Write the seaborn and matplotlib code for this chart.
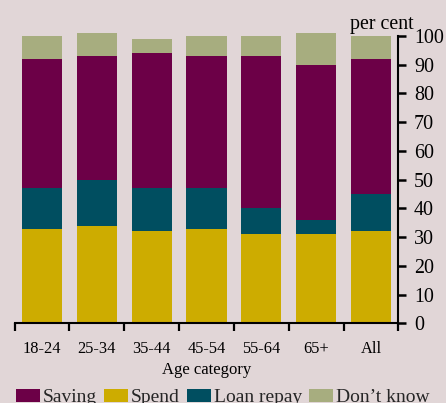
import numpy as np
import pandas as pd
import matplotlib
matplotlib.use("Agg")
import matplotlib.pyplot as plt
from matplotlib.patches import Patch
import seaborn as sns

# Share of respondents by intended use of money, per age group (per cent)
ages = ["18-24", "25-34", "35-44", "45-54", "55-64", "65+", "All"]
spend = [33, 34, 32, 33, 31, 31, 32]
loan_repay = [14, 16, 15, 14, 9, 5, 13]
saving = [45, 43, 47, 46, 53, 54, 47]
dont_know = [8, 8, 5, 7, 7, 11, 8]
y_ticks = list(range(0, 101, 10))

BG = "#e1d6d7"
C_SAVING = "#6c0047"
C_SPEND = "#cdac00"
C_LOAN = "#004e60"
C_DK = "#a7ad7f"

sns.set_theme(style="white")
plt.rcParams["font.family"] = ["Liberation Serif", "DejaVu Serif"]

df = pd.DataFrame({
    "age": ages,
    "spend": spend,
    "loan": loan_repay,
    "saving": saving,
    "dk": dont_know,
})
df["c_spend"] = df["spend"]
df["c_loan"] = df["c_spend"] + df["loan"]
df["c_saving"] = df["c_loan"] + df["saving"]
df["c_dk"] = df["c_saving"] + df["dk"]

fig = plt.figure(figsize=(4.46, 4.03), dpi=100, facecolor=BG)
ax = fig.add_axes([0.0327, 0.1973, 0.8933 - 0.0327, 0.925 - 0.1973])
ax.set_facecolor(BG)

# stacked bars drawn as overlapping cumulative totals, tallest first
for col, color in [("c_dk", C_DK), ("c_saving", C_SAVING),
                   ("c_loan", C_LOAN), ("c_spend", C_SPEND)]:
    sns.barplot(data=df, x="age", y=col, order=ages, color=color,
                saturation=1, width=0.73, linewidth=0, errorbar=None, ax=ax)

ax.set_xlim(-0.5, len(ages) - 0.5)
ax.set_ylim(0, 102)

for side in ("left", "top"):
    ax.spines[side].set_visible(False)
for side in ("right", "bottom"):
    ax.spines[side].set_visible(True)
    ax.spines[side].set_color("black")
    ax.spines[side].set_linewidth(1.5)
ax.spines["right"].set_bounds(0, 100)

ax.yaxis.set_ticks_position("right")
ax.set_yticks(y_ticks)
ax.set_yticklabels([str(v) for v in y_ticks])
ax.tick_params(axis="y", which="major", right=True, left=False,
               labelright=True, labelleft=False, direction="out",
               length=5.8, width=1.8, pad=5.5, labelsize=14.4,
               colors="black")

ax.set_xticks(np.arange(len(ages)))
ax.set_xticklabels(ages)
ax.set_xticks(np.arange(-0.5, len(ages), 1), minor=True)
ax.tick_params(axis="x", which="major", length=0, pad=12.5,
               labelsize=11.8, colors="black")
ax.tick_params(axis="x", which="minor", bottom=True, direction="out",
               length=5.8, width=1.6, color="black")

ax.set_xlabel("Age category", fontsize=12, labelpad=4, color="black")
ax.set_ylabel("")

fig.text(414 / 446, 1 - 28.5 / 403, "per cent", ha="right", va="baseline",
         fontsize=14.4, color="black")

handles = [Patch(facecolor=C_SAVING, edgecolor="none", label="Saving"),
           Patch(facecolor=C_SPEND, edgecolor="none", label="Spend"),
           Patch(facecolor=C_LOAN, edgecolor="none", label="Loan repay"),
           Patch(facecolor=C_DK, edgecolor="none", label="Don\u2019t know")]
fig.legend(handles=handles, loc="center left",
           bbox_to_anchor=(16 / 446, 1 - 397.5 / 403), ncol=4,
           frameon=False, borderpad=0, borderaxespad=0,
           handlelength=1.24, handleheight=0.7, handletextpad=0.15,
           columnspacing=0.35, fontsize=14)

fig.savefig("out.png", dpi=100, facecolor=BG)
